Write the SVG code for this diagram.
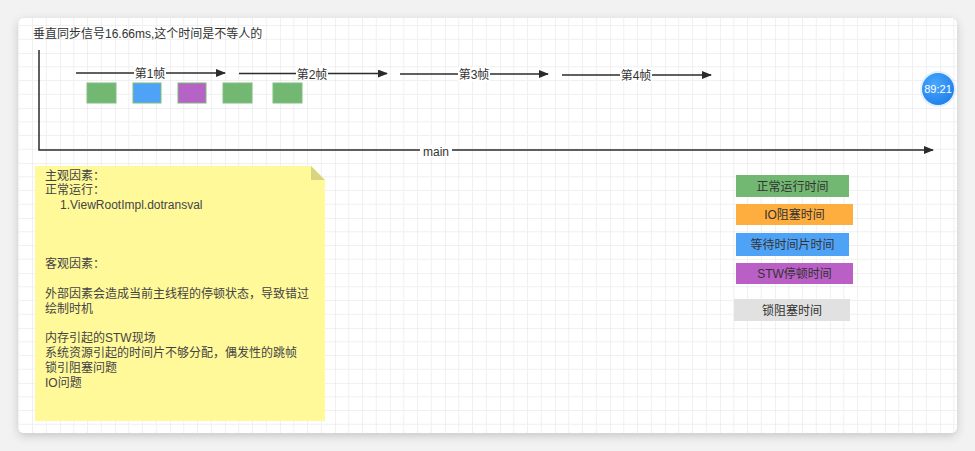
<svg xmlns="http://www.w3.org/2000/svg" width="975" height="451" viewBox="0 0 975 451">
<defs>
<style>
text{font-family:"Liberation Sans","Noto Sans CJK SC",sans-serif;font-size:12px;fill:#333}
.edge{stroke:#2b2b2b;stroke-width:1.5;fill:none}
.lbl{text-anchor:middle}
.note text{fill:#444}
.leg text{text-anchor:middle;fill:#333}
</style>
<pattern id="grid" patternUnits="userSpaceOnUse" x="5" y="53" width="55" height="55">
<path d="M13.75 0V55M27.5 0V55M41.25 0V55M0 13.75H55M0 27.5H55M0 41.25H55" stroke="#f0f0f0" stroke-width="1"/>
<path d="M0 0V55M0 0H55" stroke="#e4e4e4" stroke-width="1"/>
</pattern>
<filter id="sh" x="-5%" y="-5%" width="110%" height="115%">
<feDropShadow dx="0" dy="3" stdDeviation="5" flood-color="#000" flood-opacity="0.18"/>
</filter>
<marker id="ar" markerWidth="10" markerHeight="8" refX="9" refY="4" orient="auto" markerUnits="userSpaceOnUse">
<path d="M0 0L10 4L0 8z" fill="#2b2b2b"/>
</marker>
<radialGradient id="bg" cx="0.4" cy="0.35" r="0.7">
<stop offset="0" stop-color="#4aa8ff"/>
<stop offset="1" stop-color="#1f7fe8"/>
</radialGradient>
</defs>
<rect width="975" height="451" fill="#f2f2f2"/>
<rect x="18" y="18" width="939" height="415" rx="6" fill="#fff" filter="url(#sh)"/>
<rect x="18" y="18" width="939" height="415" rx="6" fill="url(#grid)"/>

<text x="33" y="38">垂直同步信号16.66ms,这个时间是不等人的</text>

<g id="connectors">
<path class="edge" d="M39 50V150H933" marker-end="url(#ar)"/>
<rect x="420" y="145" width="32" height="12" fill="#fff"/>
<text class="lbl" x="436" y="156">main</text>
<line class="edge" x1="76" y1="73" x2="225" y2="73" marker-end="url(#ar)"/>
<rect x="134" y="66" width="32" height="14" fill="#fff"/>
<text class="lbl" x="150" y="78">第1帧</text>
<line class="edge" x1="239" y1="73.5" x2="387" y2="73.5" marker-end="url(#ar)"/>
<rect x="296" y="66" width="32" height="14" fill="#fff"/>
<text class="lbl" x="312" y="78.5">第2帧</text>
<line class="edge" x1="400" y1="74" x2="548" y2="74" marker-end="url(#ar)"/>
<rect x="458" y="67" width="32" height="14" fill="#fff"/>
<text class="lbl" x="474" y="79">第3帧</text>
<line class="edge" x1="562" y1="75" x2="711" y2="75" marker-end="url(#ar)"/>
<rect x="620" y="68" width="32" height="14" fill="#fff"/>
<text class="lbl" x="636" y="80">第4帧</text>
</g>

<g id="b1"><rect x="87" y="83" width="29" height="20" fill="#72b872" stroke="#82bf82"/></g>
<g id="b2"><rect x="133" y="83" width="28" height="20" fill="#4fa3f7" stroke="#7fbf7f"/></g>
<g id="b3"><rect x="178" y="83" width="28" height="20" fill="#b563c4" stroke="#82b582"/></g>
<g id="b4"><rect x="223" y="83" width="29" height="20" fill="#72b872" stroke="#82bf82"/></g>
<g id="b5"><rect x="273" y="83" width="29" height="20" fill="#72b872" stroke="#82bf82"/></g>

<g id="note" class="note">
<path d="M35 166H311L325 180V421H35z" fill="#fff99a"/>
<path d="M311 166L325 180H311z" fill="#d9d47f"/>
<text x="45" y="179.5">主观因素：</text>
<text x="45" y="194.3">正常运行：</text>
<text x="60" y="209.1">1.ViewRootImpl.dotransval</text>
<text x="45" y="268.3">客观因素：</text>
<text x="45" y="297.9">外部因素会造成当前主线程的停顿状态，导致错过</text>
<text x="45" y="312.7">绘制时机</text>
<text x="45" y="342.3">内存引起的STW现场</text>
<text x="45" y="357.1">系统资源引起的时间片不够分配，偶发性的跳帧</text>
<text x="45" y="371.9">锁引阻塞问题</text>
<text x="45" y="386.7">IO问题</text>
</g>

<g id="leg1" class="leg"><rect x="736" y="175" width="113" height="22" fill="#72b872"/><text x="792.5" y="190.5">正常运行时间</text></g>
<g id="leg2" class="leg"><rect x="736" y="204" width="117" height="21" fill="#fdae3e"/><text x="794.5" y="218.5">IO阻塞时间</text></g>
<g id="leg3" class="leg"><rect x="736" y="233" width="113" height="23" fill="#4fa3f7"/><text x="792.5" y="248.5">等待时间片时间</text></g>
<g id="leg4" class="leg"><rect x="736" y="263" width="117" height="21" fill="#b95fc6"/><text x="794.5" y="277.5">STW停顿时间</text></g>
<g id="leg5" class="leg"><rect x="734" y="299" width="116" height="22" fill="#e1e1e1"/><text x="792" y="314.5">锁阻塞时间</text></g>

<g id="badge">
<circle cx="938" cy="89" r="18" fill="#cfe6ff" opacity="0.6"/>
<circle cx="938" cy="89" r="16" fill="url(#bg)"/>
<text x="938" y="93" text-anchor="middle" style="fill:#fff;font-size:11px">89:21</text>
</g>
</svg>
